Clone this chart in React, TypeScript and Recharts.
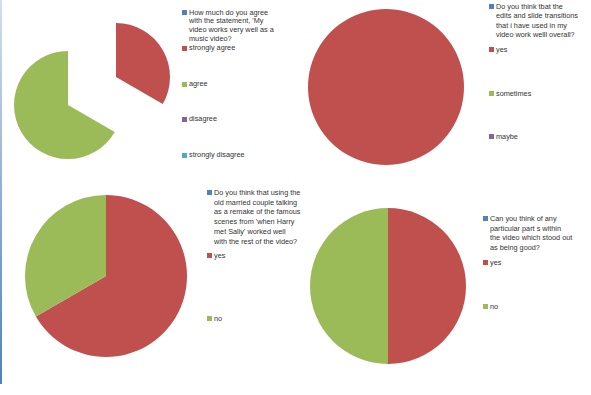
import { PieChart, Pie, Cell, Legend } from 'recharts';

const COLORS = ['#4F81BD', '#C0504D', '#9BBB59', '#8064A2', '#4BACC6'];
const FONT = '"Liberation Sans", "DejaVu Sans", sans-serif';
const NO_MARGIN = { top: 0, right: 0, bottom: 0, left: 0 };

const agreeCategories = [
  "How much do you agree\nwith the statement, 'My\nvideo works very well as a\nmusic video?",
  'strongly agree',
  'agree',
  'disagree',
  'strongly disagree',
];
const agreeValues = [0, 1, 2, 0, 0];

const editsCategories = [
  'Do you think tbat the\nedits and slide transitions\nthat i have used in my\nvideo work welll overall?',
  'yes',
  'sometimes',
  'maybe',
];
const editsValues = [0, 3, 0, 0];

const remakeCategories = [
  "Do you think that using the\nold married couple talking\nas a remake of the famous\nscenes from 'when Harry\nmet Sally' worked well\nwith the rest of the video?",
  'yes',
  'no',
];
const remakeValues = [0, 2, 1];

const partsCategories = [
  'Can you think of any\nparticular part s within\nthe video which stood out\nas being good?',
  'yes',
  'no',
];
const partsValues = [0, 1, 1];

const toRows = (names: string[], values: number[]) =>
  names.map((name, i) => ({ name, value: values[i] }));

function SideLegend({ names, gap, lh = 9.3 }: { names: string[]; gap: number; lh?: number }) {
  return (
    <div style={{ position: 'relative', fontFamily: FONT, fontSize: 7.3, lineHeight: `${lh}px`, color: '#333' }}>
      {names.map((name, i) => (
        <div
          key={i}
          style={{ position: 'absolute', top: i * gap, left: 0, display: 'flex', whiteSpace: 'pre' }}
        >
          <span
            style={{ width: 5, height: 5, background: COLORS[i], marginTop: lh / 2 - 2.5, marginRight: 2, flexShrink: 0 }}
          />
          <span>{name}</span>
        </div>
      ))}
    </div>
  );
}

// one slice per Pie so a slice can be pulled out of the pie (Excel "explode")
function slicePie(rows: { name: string; value: number }[], idx: number, cx: number, cy: number, r: number) {
  return (
    <Pie
      key={idx}
      data={rows}
      dataKey="value"
      nameKey="name"
      cx={cx}
      cy={cy}
      outerRadius={r}
      startAngle={90}
      endAngle={-270}
      stroke="none"
      legendType="none"
      isAnimationActive={false}
    >
      {rows.map((_, i) => (
        <Cell key={i} fill={i === idx ? COLORS[i] : 'transparent'} />
      ))}
    </Pie>
  );
}

function SimplePie({ rows, cx, cy, r }: { rows: { name: string; value: number }[]; cx: number; cy: number; r: number }) {
  return (
    <Pie
      data={rows}
      dataKey="value"
      nameKey="name"
      cx={cx}
      cy={cy}
      outerRadius={r}
      startAngle={90}
      endAngle={-270}
      stroke="none"
      isAnimationActive={false}
    >
      {rows.map((_, i) => (
        <Cell key={i} fill={COLORS[i]} />
      ))}
    </Pie>
  );
}

export default function App() {
  const agree = toRows(agreeCategories, agreeValues);
  const edits = toRows(editsCategories, editsValues);
  const remake = toRows(remakeCategories, remakeValues);
  const parts = toRows(partsCategories, partsValues);

  return (
    <div style={{ position: 'absolute', left: 0, top: 0, width: 591, height: 395, background: '#fff', overflow: 'hidden' }}>
      <div
        style={{
          position: 'absolute',
          left: 0,
          top: 0,
          width: 2,
          height: 384,
          background: 'linear-gradient(#d3deee, #4F81BD)',
        }}
      />

      <div style={{ position: 'absolute', left: 0, top: 0 }}>
        <PieChart width={295} height={185} margin={NO_MARGIN}>
          {slicePie(agree, 1, 116, 77, 54)}
          {slicePie(agree, 2, 68, 105, 54)}
          <Legend
            wrapperStyle={{ left: 182, top: 8.5, width: 112 }}
            content={() => <SideLegend names={agreeCategories} gap={35.6} lh={8.8} />}
          />
        </PieChart>
      </div>

      <div style={{ position: 'absolute', left: 295, top: 0 }}>
        <PieChart width={296} height={185} margin={NO_MARGIN}>
          <SimplePie rows={edits} cx={91} cy={87} r={78} />
          <Legend
            wrapperStyle={{ left: 194, top: 2, width: 102 }}
            content={() => <SideLegend names={editsCategories} gap={43.3} />}
          />
        </PieChart>
      </div>

      <div style={{ position: 'absolute', left: 0, top: 185 }}>
        <PieChart width={295} height={205} margin={NO_MARGIN}>
          <SimplePie rows={remake} cx={106} cy={91} r={81} />
          <Legend
            wrapperStyle={{ left: 207, top: 3, width: 100 }}
            content={() => <SideLegend names={remakeCategories} gap={63} lh={9.7} />}
          />
        </PieChart>
      </div>

      <div style={{ position: 'absolute', left: 295, top: 185 }}>
        <PieChart width={296} height={205} margin={NO_MARGIN}>
          <SimplePie rows={parts} cx={93} cy={101} r={78} />
          <Legend
            wrapperStyle={{ left: 188, top: 29, width: 108 }}
            content={() => <SideLegend names={partsCategories} gap={44} lh={9.7} />}
          />
        </PieChart>
      </div>
    </div>
  );
}
